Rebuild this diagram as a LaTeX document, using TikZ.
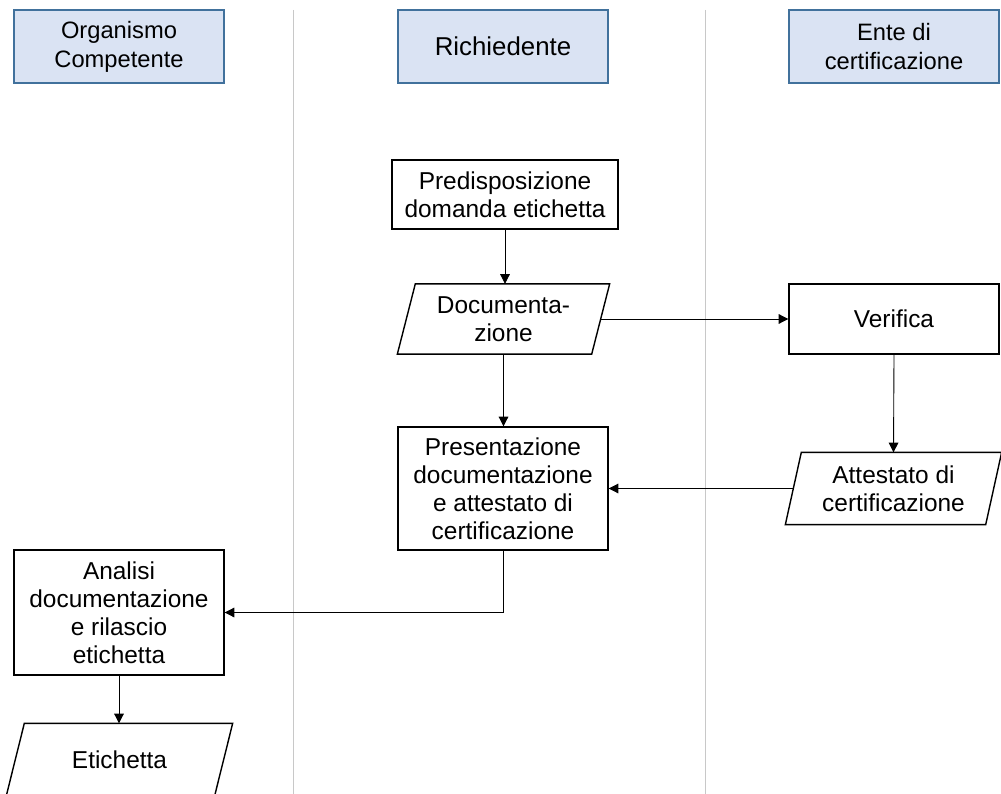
\documentclass[tikz,border=0pt]{standalone}
\usepackage{fontspec}
\setmainfont{Liberation Sans}
\usetikzlibrary{arrows.meta,calc,positioning}
\definecolor{headfill}{RGB}{218,227,243}
\definecolor{headline}{RGB}{65,113,156}
\definecolor{laneline}{RGB}{200,200,200}

\begin{document}
\begin{tikzpicture}[x=0.02cm,y=-0.02cm,>={Triangle[length=5.5pt,width=5.5pt]},
  head/.style={draw=headline,fill=headfill,line width=0.8pt,minimum width=4.2cm,
    minimum height=1.46cm,align=center,inner sep=0pt,
    font=\fontsize{13.5}{16.6}\selectfont},
  stepbox/.style={draw,line width=0.8pt,minimum width=4.2cm,align=center,
    inner sep=0pt,font=\fontsize{13.9}{15.9}\selectfont},
  databox/.style={stepbox,draw=none},
  flow/.style={->,line width=0.5pt}]
\useasboundingbox (0,0) rectangle (1001,794);
\clip (0,0) rectangle (1001,794);

% lanes
\draw[laneline,line width=0.5pt] (293,10) -- (293,794);
\draw[laneline,line width=0.5pt] (705,10) -- (705,794);

% headers
\node[head] (org) at (119,46.5) {Organismo\\Competente};
\node[head,font=\fontsize{14.7}{17}\selectfont] (ric) at (503,46.5) {Richiedente};
\node[head] (ente) at (894,46.5) {Ente di\\certificazione};

% Richiedente
\node[stepbox,minimum width=4.52cm,minimum height=1.38cm] (pred) at (505,194.5)
  {Predisposizione\\domanda etichetta};
\node[databox,minimum width=4.22cm,minimum height=1.38cm] (doc) at (503.5,319)
  {Documenta-\\zione};
\node[stepbox,minimum height=2.46cm] (pres) at (503,488.5)
  {Presentazione\\documentazione\\e attestato di\\certificazione};

% Ente di certificazione
\node[stepbox,minimum height=1.4cm] (ver) at (894,319) {Verifica};
\node[databox,minimum width=4.3cm,minimum height=1.42cm] (att) at (893.5,488.5)
  {Attestato di\\certificazione};

% Organismo Competente
\node[stepbox,minimum height=2.5cm] (ana) at (119,612.5)
  {Analisi\\documentazione\\e rilascio\\etichetta};
\node[databox,minimum width=4.5cm,minimum height=1.42cm] (etq) at (119.5,759.5)
  {Etichetta};

% parallelograms
\foreach \n/\s in {doc/18,att/16,etq/18}
\draw[line width=0.8pt]
($(\n.north west)+(\s,0)$) -- (\n.north east) --
($(\n.south east)-(\s,0)$) -- (\n.south west) -- cycle;

% connectors
\draw[flow] (pred.south) -- (pred.south |- doc.north);
\draw[flow] (doc.south) -- (doc.south |- pres.north);
\draw[flow] ([xshift=-0.18cm]doc.east) -- (ver.west);
\draw[flow] (ver.south) -- (att.north);
\draw[flow] ([xshift=0.16cm]att.west) -- (pres.east);
\draw[flow] (pres.south) |- (ana.east);
\draw[flow] (ana.south) -- (ana.south |- etq.north);
\end{tikzpicture}
\end{document}
